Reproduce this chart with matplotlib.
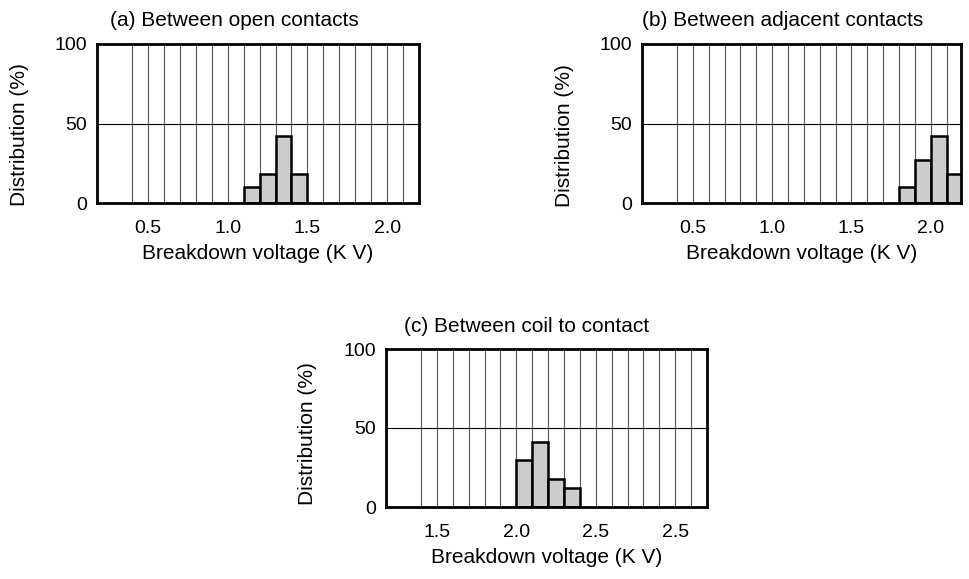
import numpy as np
import matplotlib.pyplot as plt

plt.rcParams['font.family'] = ['Liberation Sans', 'DejaVu Sans']

# (a) between open contacts: bin left edges (kV) and distribution (%)
a_bins = [1.1, 1.2, 1.3, 1.4]
a_pct = [10, 18, 42, 18]

# (b) between adjacent contacts
b_bins = [1.8, 1.9, 2.0, 2.1]
b_pct = [10, 27, 42, 18]

# (c) between coil to contact
c_bins = [2.0, 2.1, 2.2, 2.3]
c_pct = [30, 41, 18, 12]

ab_ticks = [0.5, 1.0, 1.5, 2.0]
ab_ticklabels = ['0.5', '1.0', '1.5', '2.0']
c_ticks = [1.5, 2.0, 2.5, 3.0]
c_ticklabels = ['1.5', '2.0', '2.5', '2.5']

fig = plt.figure(figsize=(9.7, 5.79), dpi=100)
W, H = 970, 579
FS = 15


def panel(box, bins, pct, xlim, grid_from, ticks, ticklabels):
    l, t, r, b = box
    ax = fig.add_axes([l / W, 1 - b / H, (r - l) / W, (b - t) / H])
    ax.set_axisbelow(True)
    ax.bar(bins, pct, width=0.1, align='edge', color='#cccccc',
           edgecolor='black', linewidth=1.8, zorder=3)
    for x in np.arange(grid_from, xlim[1] - 0.05, 0.1):
        ax.axvline(x, color='#555555', linewidth=0.8, zorder=1)
    ax.axhline(50, color='black', linewidth=0.8, zorder=1)
    ax.set_xlim(*xlim)
    ax.set_ylim(0, 100)
    ax.set_xticks(ticks)
    ax.set_xticklabels(ticklabels)
    ax.set_yticks([0, 50, 100])
    ax.tick_params(length=0, labelsize=14)
    ax.tick_params(axis='x', pad=12)
    ax.tick_params(axis='y', pad=7)
    for s in ax.spines.values():
        s.set_linewidth(2)
        s.set_zorder(5)
    ax.set_xlabel('Breakdown voltage (K V)', fontsize=FS, labelpad=5)
    return ax


panel((97, 44, 419, 203), a_bins, a_pct, (0.18, 2.2), 0.4, ab_ticks, ab_ticklabels)
panel((642, 44, 961, 203), b_bins, b_pct, (0.18, 2.19), 0.4, ab_ticks, ab_ticklabels)
panel((386, 349, 707, 507), c_bins, c_pct, (1.18, 3.2), 1.4, c_ticks, c_ticklabels)

# panel titles
fig.text(110 / W, 1 - 20 / H, '(a) Between open contacts', fontsize=FS, ha='left', va='center')
fig.text(642 / W, 1 - 20 / H, '(b) Between adjacent contacts', fontsize=FS, ha='left', va='center')
fig.text(404 / W, 1 - 326 / H, '(c) Between coil to contact', fontsize=FS, ha='left', va='center')

# y labels
fig.text(20 / W, 1 - 135 / H, 'Distribution (%)', fontsize=FS, rotation=90, ha='center', va='center')
fig.text(565 / W, 1 - 136 / H, 'Distribution (%)', fontsize=FS, rotation=90, ha='center', va='center')
fig.text(308 / W, 1 - 434 / H, 'Distribution (%)', fontsize=FS, rotation=90, ha='center', va='center')

fig.savefig('out.png', dpi=100, facecolor='white')
